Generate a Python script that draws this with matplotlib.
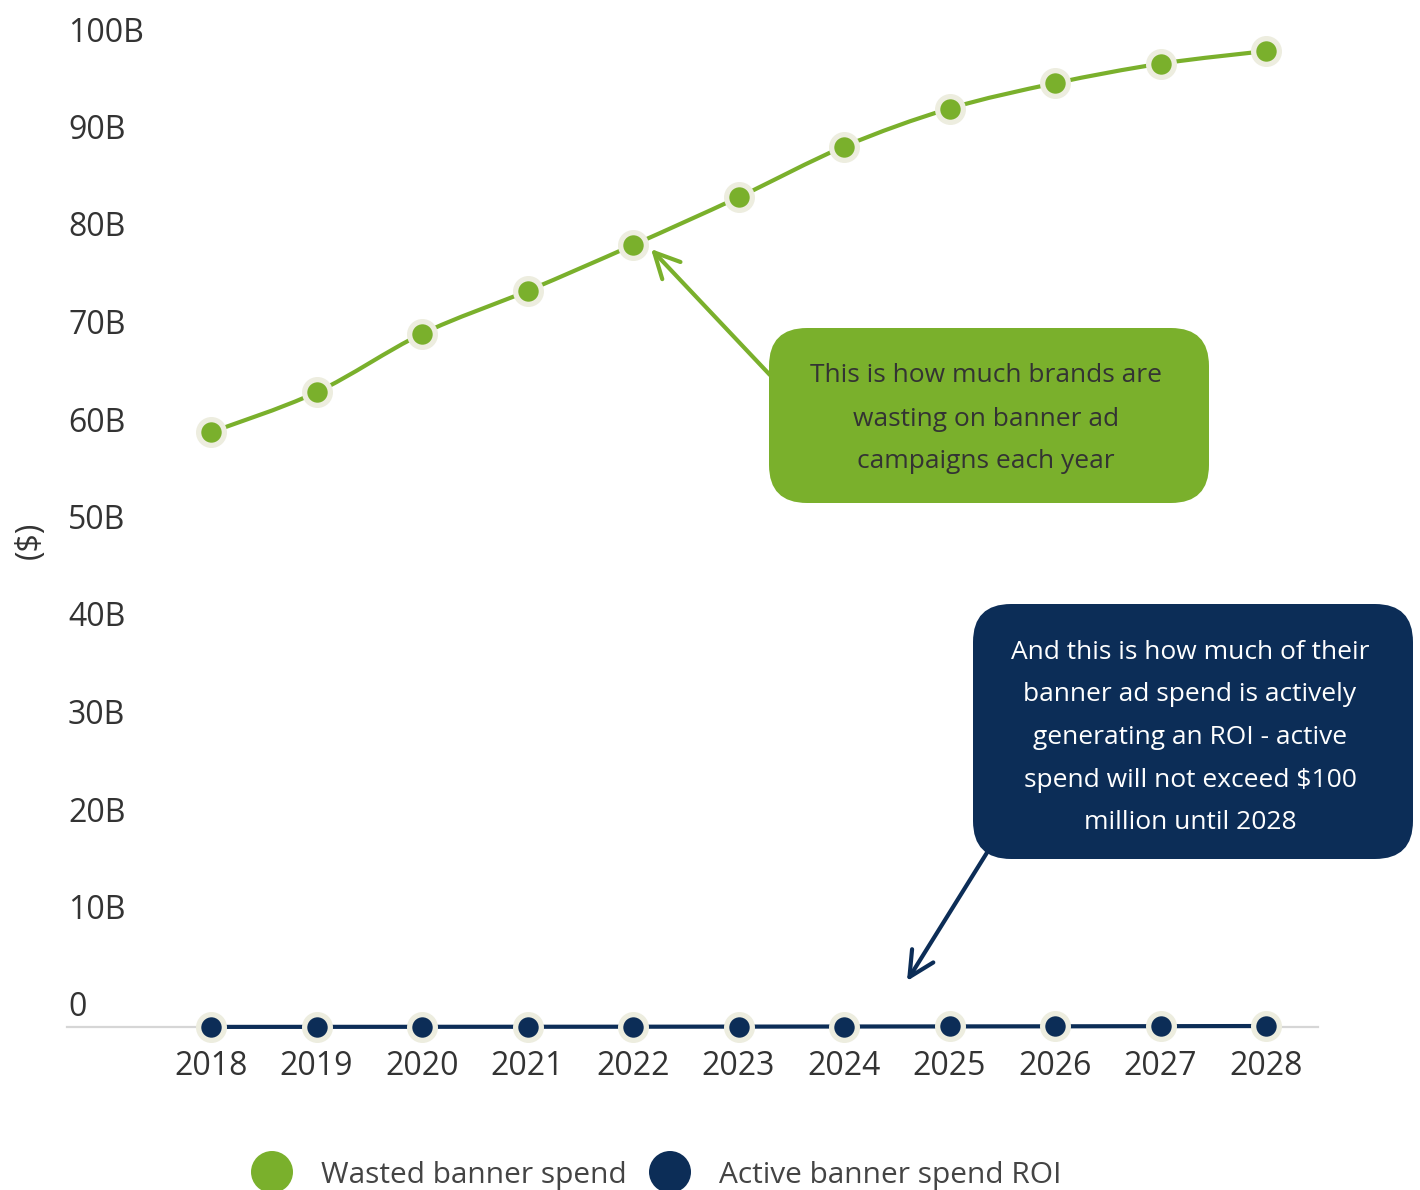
import matplotlib
matplotlib.use("Agg")
import matplotlib.pyplot as plt
import numpy as np
from matplotlib.path import Path
from matplotlib.patches import PathPatch, FancyBboxPatch, FancyArrowPatch, Circle
from matplotlib.transforms import IdentityTransform

years = [2018, 2019, 2020, 2021, 2022, 2023, 2024, 2025, 2026, 2027, 2028]
wasted = [61.0, 65.1, 71.1, 75.5, 80.2, 85.1, 90.3, 94.2, 96.8, 98.8, 100.1]
active = [0.01, 0.015, 0.02, 0.025, 0.03, 0.04, 0.05, 0.06, 0.07, 0.085, 0.1]
ytick_vals = [0, 10, 20, 30, 40, 50, 60, 70, 80, 90, 100]
ytick_labels = ["0", "10B", "20B", "30B", "40B", "50B", "60B", "70B", "80B", "90B", "100B"]

GREEN, NAVY, RING = "#7ab02c", "#0c2d57", "#ededdf"
INK, AXIS = "#333333", "#d6d6d6"
W, H = 1420, 1190

plt.rcParams.update({"font.family": ["Open Sans", "DejaVu Sans"], "text.color": INK})

fig = plt.figure(figsize=(W / 100, H / 100), dpi=100)
ax = fig.add_axes([67 / W, 1 - 1027 / H, (1318 - 67) / W, (1027 - 52) / H])
ax.set_xlim(2018 - 144 / 105.5, 2028 + 52 / 105.5)
ax.set_ylim(0, 100)


def spline_path(xs, ys):
    # cubic bezier through every point, tangents from neighbours
    p = np.column_stack([xs, ys]).astype(float)
    verts, codes = [p[0]], [Path.MOVETO]
    n = len(p)
    for i in range(n - 1):
        prev = p[i - 1] if i > 0 else p[i]
        nxt = p[i + 2] if i + 2 < n else p[i + 1]
        c1 = p[i] + (p[i + 1] - prev) / 6
        c2 = p[i + 1] - (nxt - p[i]) / 6
        verts += [c1, c2, p[i + 1]]
        codes += [Path.CURVE4] * 3
    return Path(verts, codes)


ax.add_patch(PathPatch(spline_path(years, wasted), fill=False, ec=GREEN, lw=3,
                       clip_on=False, zorder=2))
ax.plot(years, active, color=NAVY, lw=3, zorder=2, clip_on=False)
for ys, col in ((wasted, GREEN), (active, NAVY)):
    ax.plot(years, ys, ls="none", marker="o", ms=18.5, mfc=col, mec=RING, mew=3.8,
            zorder=3, clip_on=False)

for s in ("top", "right", "left"):
    ax.spines[s].set_visible(False)
ax.spines["bottom"].set_color(AXIS)
ax.spines["bottom"].set_linewidth(1.6)
ax.spines["bottom"].set_zorder(1)
ax.set_yticks([])
ax.set_xticks(years)
ax.set_xticklabels([str(y) for y in years], fontsize=23, color=INK)
ax.tick_params(axis="x", length=0, pad=16.5)

for v, lab in zip(ytick_vals, ytick_labels):
    ax.annotate(lab, xy=(0, v), xycoords=("axes fraction", "data"), xytext=(1, 19),
                textcoords="offset pixels", ha="left", va="center", fontsize=23, color=INK)

fig.text(30 / W, 1 - 540 / H, "($)", rotation=90, ha="center", va="center",
         fontsize=23, color=INK)

px = IdentityTransform()

# callout boxes
green_box = FancyBboxPatch((769, H - 503), 440, 175, boxstyle="round,pad=0,rounding_size=38",
                           fc=GREEN, ec="none", transform=px, figure=fig)
navy_box = FancyBboxPatch((973, H - 859), 440, 255, boxstyle="round,pad=0,rounding_size=38",
                          fc=NAVY, ec="none", transform=px, figure=fig)
fig.patches += [green_box, navy_box]

green_lines = ["This is how much brands are", "wasting on banner ad", "campaigns each year"]
for i, t in enumerate(green_lines):
    fig.text(986 / W, 1 - (376 + 43 * i) / H, t, ha="center", va="center",
             fontsize=19, color=INK)
navy_lines = ["And this is how much of their", "banner ad spend is actively",
              "generating an ROI - active", "spend will not exceed $100",
              "million until 2028"]
for i, t in enumerate(navy_lines):
    fig.text(1190 / W, 1 - (652 + 42.7 * i) / H, t, ha="center", va="center",
             fontsize=19, color="white")

for (x0, y0, x1, y1, col) in ((770, 375, 651, 249, GREEN), (988, 851, 907, 981, NAVY)):
    arr = FancyArrowPatch((x0, H - y0), (x1, H - y1), transform=px,
                          arrowstyle="->,head_length=18,head_width=9", mutation_scale=1,
                          color=col, lw=3, shrinkA=0, shrinkB=0, figure=fig)
    fig.patches.append(arr)

# legend
for cx, col, lab in ((272, GREEN, "Wasted banner spend"), (670, NAVY, "Active banner spend ROI")):
    fig.patches.append(Circle((cx, H - 1172), 21, fc=col, ec="none", transform=px, figure=fig))
    fig.text((cx + 49) / W, 1 - 1175 / H, lab, ha="left", va="center", fontsize=21.5,
             color="#444444")

fig.savefig("out.png", dpi=100)
